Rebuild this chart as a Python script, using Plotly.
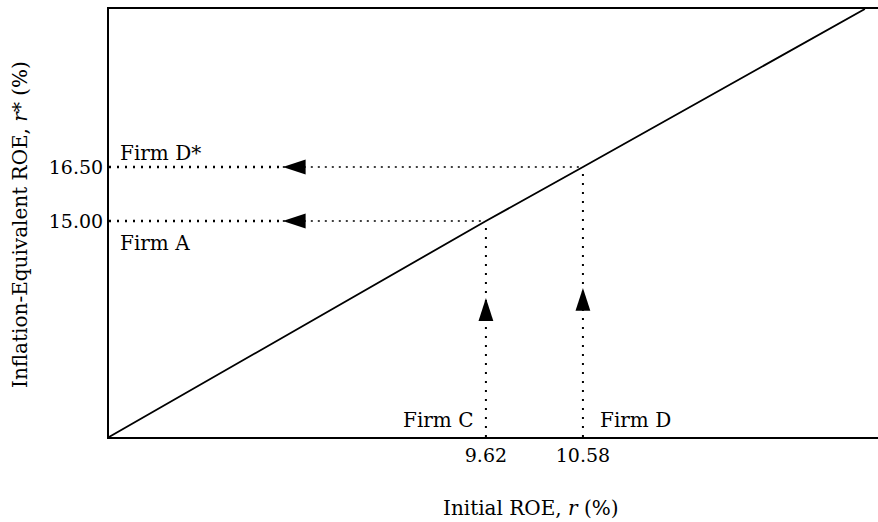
import plotly.graph_objects as go

# Data
x_range = [5.89, 13.50]
y_range = [9.00, 20.89]

line_r = [5.89, 9.62, 10.58, 13.37]
line_rstar = [9.00, 15.00, 16.50, 20.89]

firm_r = [9.62, 10.58]          # Firm C, Firm D (initial ROE)
firm_rstar = [15.00, 16.50]     # Firm A, Firm D* (inflation-equivalent ROE)
arrow_h_x = 7.61                # horizontal arrowhead position
arrow_v_y = [12.86, 13.14]      # vertical arrowhead positions

x_tick_vals = [9.62, 10.58]
x_tick_text = ["9.62", "10.58"]
y_tick_vals = [15.00, 16.50]
y_tick_text = ["15.00", "16.50"]

FONT = "DejaVu Serif"
FS = 20
FS_TICK = 19
fig = go.Figure()

# diagonal
fig.add_trace(go.Scatter(x=line_r, y=line_rstar, mode="lines",
                         line=dict(color="black", width=1.8), hoverinfo="skip"))

for r, rs, ay in zip(firm_r, firm_rstar, arrow_v_y):
    # horizontal: axis -> arrowhead (heavy dots)
    fig.add_trace(go.Scatter(x=[x_range[0], arrow_h_x], y=[rs, rs], mode="lines",
                             line=dict(color="black", width=2.5, dash="2px,6px")))
    # horizontal: arrowhead -> diagonal (fine dots)
    fig.add_trace(go.Scatter(x=[arrow_h_x, r], y=[rs, rs], mode="lines",
                             line=dict(color="black", width=1.6, dash="2px,5px")))
    # vertical: axis -> diagonal
    fig.add_trace(go.Scatter(x=[r, r], y=[y_range[0], rs], mode="lines",
                             line=dict(color="black", width=2, dash="2px,7px")))
    # arrowheads
    fig.add_trace(go.Scatter(x=[arrow_h_x], y=[rs], mode="markers",
                             marker=dict(symbol="arrow", angle=-90, size=24, color="black")))
    fig.add_trace(go.Scatter(x=[r], y=[ay], mode="markers",
                             marker=dict(symbol="arrow", angle=0, size=24, color="black")))

annots = [
    dict(x=x_range[0], y=firm_rstar[1], text="Firm D*", xanchor="left", yanchor="middle",
         xshift=9, yshift=14),
    dict(x=x_range[0], y=firm_rstar[0], text="Firm A", xanchor="left", yanchor="middle",
         xshift=9, yshift=-22),
    dict(x=firm_r[0], y=y_range[0], text="Firm C", xanchor="right", yanchor="middle",
         xshift=-11, yshift=17),
    dict(x=firm_r[1], y=y_range[0], text="Firm D", xanchor="left", yanchor="middle",
         xshift=15, yshift=17),
]
for a in annots:
    a.update(xref="x", yref="y", showarrow=False, font=dict(family=FONT, size=FS, color="black"))
    fig.add_annotation(**a)

W, H = 878, 522
L, R, T, B = 109, 0, 9, 85
pw, ph = W - L - R, H - T - B

fig.add_annotation(x=(531 - L) / pw, y=(H - B - 508) / ph, xref="paper", yref="paper",
                   xanchor="center", yanchor="middle",
                   text="Initial ROE, <i>r</i> (%)",
                   showarrow=False, font=dict(family=FONT, size=FS, color="black"))
fig.add_annotation(x=(20 - L) / pw, y=(H - B - 225) / ph, xref="paper", yref="paper",
                   xanchor="center", yanchor="middle",
                   text="Inflation-Equivalent ROE, <i>r</i>* (%)", textangle=-90,
                   showarrow=False, font=dict(family=FONT, size=FS, color="black"))

fig.update_layout(
    width=W, height=H,
    margin=dict(l=L, r=R, t=T, b=B, pad=0),
    plot_bgcolor="white", paper_bgcolor="white",
    showlegend=False,
    font=dict(family=FONT, size=FS, color="black"),
    xaxis=dict(range=x_range, tickvals=x_tick_vals, ticktext=x_tick_text,
               showgrid=False, zeroline=False, showline=True, linecolor="black",
               linewidth=2, mirror=True, ticks="", ticklen=0,
               tickfont=dict(family=FONT, size=FS_TICK, color="black")),
    yaxis=dict(range=y_range, tickvals=y_tick_vals, ticktext=y_tick_text,
               showgrid=False, zeroline=False, showline=True, linecolor="black",
               linewidth=2, mirror=False, ticks="", ticklen=0,
               tickfont=dict(family=FONT, size=FS_TICK, color="black")),
)

fig.write_html("out.html", config={"displayModeBar": False},
               post_script="document.body.style.margin='0';")
